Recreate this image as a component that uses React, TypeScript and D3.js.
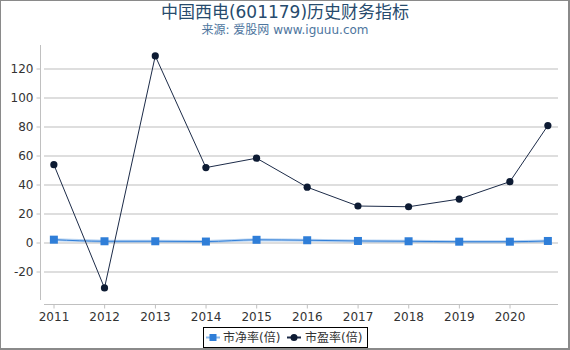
import React, { useEffect, useRef } from "react";
import * as d3 from "d3";

// report dates (annual reports, last one is Q3 2020)
const dates = [
  "2010-12-31", "2011-12-31", "2012-12-31", "2013-12-31", "2014-12-31",
  "2015-12-31", "2016-12-31", "2017-12-31", "2018-12-31", "2019-12-31", "2020-09-30",
];
// 市净率(倍)
const pbValues = [2.3, 1.2, 1.2, 1.0, 2.2, 1.9, 1.4, 1.2, 0.9, 0.9, 1.4];
// 市盈率(倍)
const peValues = [54, -31, 129, 52, 58.5, 38.5, 25.5, 25, 30.3, 42.3, 81];
const yTicks = [-20, 0, 20, 40, 60, 80, 100, 120];
const xTickYears = [2011, 2012, 2013, 2014, 2015, 2016, 2017, 2018, 2019, 2020];

const title = "中国西电(601179)历史财务指标";
const subtitle = "来源: 爱股网 www.iguuu.com";
const pbName = "市净率(倍)";
const peName = "市盈率(倍)";

const W = 570;
const H = 350;
const FONT = "'DejaVu Sans', 'Noto Sans CJK SC', sans-serif";
const PB_COLOR = "#2f7ed8";
const PE_COLOR = "#0d1b33";

export default function App() {
  const ref = useRef<SVGSVGElement>(null);

  useEffect(() => {
    const svg = d3.select(ref.current);
    svg.selectAll("*").remove();

    const parse = d3.timeParse("%Y-%m-%d");
    const pts = dates.map((d, i) => ({ date: parse(d)!, pb: pbValues[i], pe: peValues[i] }));

    const x = d3
      .scaleTime()
      .domain([new Date(2011, 0, 1), new Date(2020, 0, 1)])
      .range([54, 510]);
    const y = d3.scaleLinear().domain([0, 120]).range([243, 69]);

    const plotLeft = 44, plotRight = 558, plotTop = 45, plotBottom = 300;

    // outer frame
    svg.append("rect")
      .attr("x", 0).attr("y", 0)
      .attr("width", W - 1).attr("height", H - 1)
      .attr("fill", "#fff")
      .attr("stroke", "#8a8a8a")
      .attr("stroke-width", 2);

    // titles
    svg.append("text")
      .attr("x", W / 2).attr("y", 18)
      .attr("text-anchor", "middle")
      .style("font-family", FONT)
      .style("font-size", "17px")
      .attr("fill", "#274b6d")
      .text(title);
    svg.append("text")
      .attr("x", W / 2).attr("y", 34)
      .attr("text-anchor", "middle")
      .style("font-family", FONT)
      .style("font-size", "12px")
      .attr("fill", "#4d759e")
      .text(subtitle);

    // grid lines
    svg.append("g")
      .selectAll("line")
      .data(yTicks)
      .enter().append("line")
      .attr("x1", plotLeft).attr("x2", plotRight)
      .attr("y1", (d) => y(d)).attr("y2", (d) => y(d))
      .attr("stroke", "#bdbdbd")
      .attr("stroke-width", 1);

    // y axis
    const yAxis = svg.append("g").attr("transform", "translate(40.5,0)");
    yAxis.append("line")
      .attr("x1", 0).attr("x2", 0)
      .attr("y1", plotTop).attr("y2", plotBottom)
      .attr("stroke", "#c0c0c0");
    const yt = yAxis.selectAll("g.tick").data(yTicks).enter().append("g")
      .attr("transform", (d) => `translate(0,${y(d)})`);
    yt.append("line").attr("x1", -4).attr("x2", 0).attr("stroke", "#c0c0c0");
    yt.append("text")
      .attr("x", -7).attr("dy", "0.35em")
      .attr("text-anchor", "end")
      .style("font-family", FONT)
      .style("font-size", "12px")
      .attr("fill", "#333")
      .text((d) => d);

    // x axis
    const xAxis = svg.append("g").attr("transform", "translate(0,304.5)");
    xAxis.append("line")
      .attr("x1", plotLeft).attr("x2", plotRight)
      .attr("stroke", "#c0c0c0");
    const xt = xAxis.selectAll("g.tick").data(xTickYears).enter().append("g")
      .attr("transform", (d) => `translate(${x(new Date(d, 0, 1))},0)`);
    xt.append("line").attr("y1", 0).attr("y2", 4).attr("stroke", "#c0c0c0");
    xt.append("text")
      .attr("y", 16)
      .attr("text-anchor", "middle")
      .style("font-family", FONT)
      .style("font-size", "12px")
      .attr("fill", "#333")
      .text((d) => d);

    // PB series
    const pbLine = d3.line<any>().x((d) => x(d.date)).y((d) => y(d.pb));
    svg.append("path").datum(pts)
      .attr("d", pbLine)
      .attr("fill", "none")
      .attr("stroke", PB_COLOR)
      .attr("stroke-opacity", 0.35)
      .attr("stroke-width", 3);
    svg.append("path").datum(pts)
      .attr("d", d3.line<any>().curve(d3.curveMonotoneX).x((d) => x(d.date)).y((d) => y(d.pb)))
      .attr("fill", "none")
      .attr("stroke", PB_COLOR)
      .attr("stroke-width", 1);
    svg.append("g").selectAll("rect").data(pts).enter().append("rect")
      .attr("x", (d) => x(d.date) - 4)
      .attr("y", (d) => y(d.pb) - 4)
      .attr("width", 8).attr("height", 8)
      .attr("fill", PB_COLOR);

    // PE series
    const peLine = d3.line<any>().x((d) => x(d.date)).y((d) => y(d.pe));
    svg.append("path").datum(pts)
      .attr("d", peLine)
      .attr("fill", "none")
      .attr("stroke", "#1c2b48")
      .attr("stroke-width", 1);
    svg.append("g").selectAll("circle").data(pts).enter().append("circle")
      .attr("cx", (d) => x(d.date))
      .attr("cy", (d) => y(d.pe))
      .attr("r", 3.6)
      .attr("fill", PE_COLOR);

    // legend
    const lg = svg.append("g");
    lg.append("rect")
      .attr("x", 203.5).attr("y", 327.5)
      .attr("width", 164).attr("height", 20)
      .attr("fill", "#fff")
      .attr("stroke", "#000")
      .attr("stroke-width", 1);
    const items = [
      { name: pbName, color: PB_COLOR, x0: 206, x1: 220, shape: "square", tx: 223 },
      { name: peName, color: PE_COLOR, x0: 287, x1: 301, shape: "circle", tx: 305 },
    ];
    const li = lg.selectAll("g.item").data(items).enter().append("g");
    li.append("line")
      .attr("x1", (d) => d.x0).attr("x2", (d) => d.x1)
      .attr("y1", 337.5).attr("y2", 337.5)
      .attr("stroke", (d) => d.shape === "square" ? "#8ab8ea" : "#1c2b48")
      .attr("stroke-width", 2);
    li.filter((d) => d.shape === "square").append("rect")
      .attr("x", (d) => (d.x0 + d.x1) / 2 - 3.5)
      .attr("y", 334)
      .attr("width", 7).attr("height", 7)
      .attr("fill", (d) => d.color);
    li.filter((d) => d.shape === "circle").append("circle")
      .attr("cx", (d) => (d.x0 + d.x1) / 2)
      .attr("cy", 337.5)
      .attr("r", 3.5)
      .attr("fill", (d) => d.color);
    li.append("text")
      .attr("x", (d) => d.tx)
      .attr("y", 337.5)
      .attr("dy", "0.35em")
      .style("font-family", FONT)
      .style("font-size", "12px")
      .attr("fill", "#333")
      .text((d) => d.name);
  }, []);

  return (
    <svg
      ref={ref}
      width={W}
      height={H}
      style={{ position: "absolute", left: 0, top: 0, display: "block" }}
    />
  );
}
